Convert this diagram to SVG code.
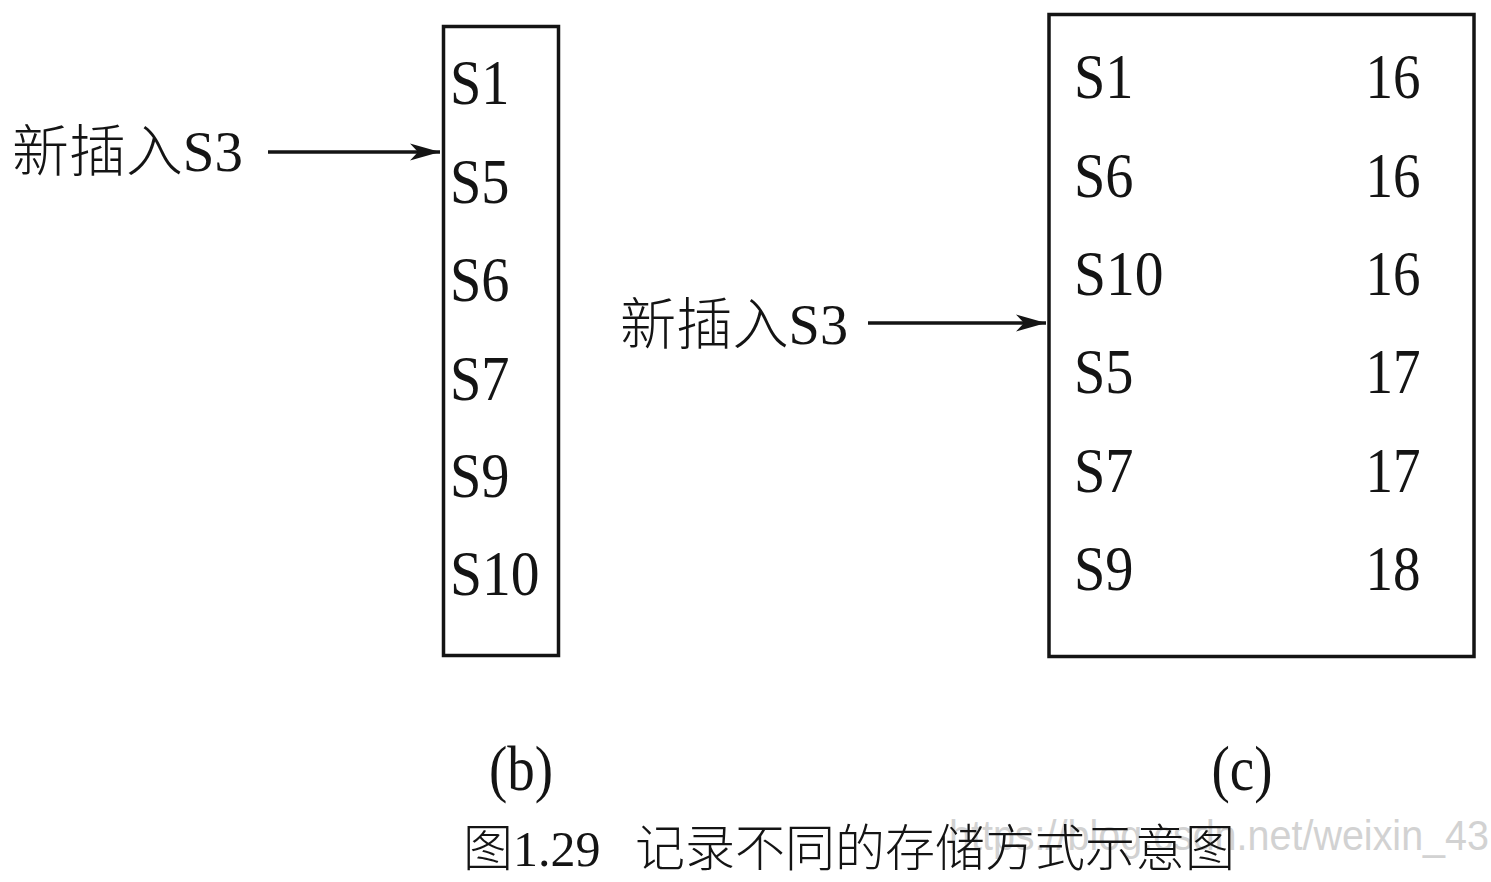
<svg xmlns="http://www.w3.org/2000/svg" width="1491" height="882" viewBox="0 0 1491 882">
<style>
.box{fill:none;stroke:#141414;stroke-width:3.5}
.t{font-family:"Liberation Serif","Times New Roman",serif;font-size:64px;fill:#141414}
.lbl{font-family:"Liberation Serif","Noto Sans CJK SC",serif;font-size:56px;fill:#141414;font-weight:300}
.cap{font-family:"Liberation Serif","Noto Sans CJK SC",serif;font-size:50px;fill:#141414;font-weight:300}
.wm{font-family:"Liberation Sans",Arial,sans-serif;font-size:42px;fill:#d2d2d2}
.conn{stroke:#141414;stroke-width:3.5;fill:none}
</style>
<defs>
<marker id="ah" viewBox="0 0 30 20" refX="30" refY="10" markerWidth="30" markerHeight="20" markerUnits="userSpaceOnUse" orient="auto">
<path d="M0,1.5 L30,10 L0,18.5 L8,10 Z" fill="#141414"/>
</marker>
</defs>
<rect width="1491" height="882" fill="#ffffff"/>

<g id="nodeB">
<rect class="box" x="443.5" y="26.5" width="115" height="629"/>
<text class="t" transform="translate(450,104) scale(0.88,1)">S1</text>
<text class="t" transform="translate(450,203) scale(0.88,1)">S5</text>
<text class="t" transform="translate(450,301) scale(0.88,1)">S6</text>
<text class="t" transform="translate(450,400) scale(0.88,1)">S7</text>
<text class="t" transform="translate(450,497) scale(0.88,1)">S9</text>
<text class="t" transform="translate(450,595) scale(0.9,1)">S10</text>
</g>

<g id="nodeC">
<rect class="box" x="1049" y="14.5" width="425" height="642"/>
<text class="t" transform="translate(1074,98) scale(0.88,1)">S1</text>
<text class="t" transform="translate(1074,197) scale(0.88,1)">S6</text>
<text class="t" transform="translate(1074,295) scale(0.9,1)">S10</text>
<text class="t" transform="translate(1074,393) scale(0.88,1)">S5</text>
<text class="t" transform="translate(1074,492) scale(0.88,1)">S7</text>
<text class="t" transform="translate(1074,590) scale(0.88,1)">S9</text>
<text class="t" text-anchor="middle" transform="translate(1393,98) scale(0.86,1)">16</text>
<text class="t" text-anchor="middle" transform="translate(1393,197) scale(0.86,1)">16</text>
<text class="t" text-anchor="middle" transform="translate(1393,295) scale(0.86,1)">16</text>
<text class="t" text-anchor="middle" transform="translate(1393,393) scale(0.86,1)">17</text>
<text class="t" text-anchor="middle" transform="translate(1393,492) scale(0.86,1)">17</text>
<text class="t" text-anchor="middle" transform="translate(1393,590) scale(0.86,1)">18</text>
</g>

<g id="label1">
<text class="lbl" x="12" y="171" textLength="231" lengthAdjust="spacingAndGlyphs">新插入S3</text>
</g>
<g id="label2">
<text class="lbl" x="620" y="344" textLength="228" lengthAdjust="spacingAndGlyphs">新插入S3</text>
</g>

<g id="connectors">
<line class="conn" x1="268" y1="152" x2="440" y2="152" marker-end="url(#ah)"/>
<line class="conn" x1="868" y1="323" x2="1046" y2="323" marker-end="url(#ah)"/>
</g>

<g id="captions">
<text class="t" text-anchor="middle" transform="translate(521,790) scale(0.86,1)">(b)</text>
<text class="t" text-anchor="middle" transform="translate(1242,790) scale(0.86,1)">(c)</text>
<text class="wm" x="949" y="850" textLength="540" lengthAdjust="spacingAndGlyphs">https://blog.csdn.net/weixin_43</text>
<text class="cap" x="463" y="866">图1.29 <tspan x="635">记录不同的存储方式示意图</tspan></text>
</g>
</svg>
